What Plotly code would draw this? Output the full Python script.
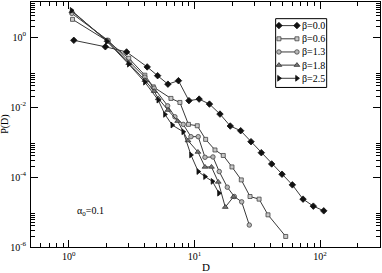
import plotly.graph_objects as go

# ---- data ----
d_b00 = [1.096, 1.954, 2.883, 4.206, 5.09, 6.15, 7.46, 9.04, 10.9, 13.17, 15.97, 19.29,
         23.34, 28.2, 34.07, 41.2, 49.8, 60.2, 73.2, 88.4, 107.0]
p_b00 = [0.805, 0.526, 0.374, 0.1396, 0.0785, 0.0449, 0.0565, 0.0152, 0.0168, 0.0121,
         0.00628, 0.00286, 0.0021, 0.00102, 0.000495, 0.000236, 0.000120, 5.96e-5,
         2.33e-5, 1.47e-5, 1.08e-5]

d_b06 = [1.07, 2.05, 3.0, 4.03, 4.70, 6.50, 7.66, 8.96, 10.53, 12.28, 14.57, 16.96, 19.9,
         23.6, 27.7, 32.7, 38.5, 53.3]
p_b06 = [3.19, 0.75, 0.247, 0.081, 0.0376, 0.0176, 0.0135, 0.00319, 0.00291, 0.00119,
         0.000592, 0.000412, 0.000194, 8.26e-5, 2.77e-5, 2.33e-5, 8.3e-6, 2.0e-6]

d_b13 = [1.057, 2.05, 3.06, 4.03, 4.78, 6.12, 6.99, 8.14, 9.38, 10.72, 12.13, 14.04, 15.76,
         18.26, 20.76, 23.77, 27.34]
p_b13 = [4.73, 0.805, 0.190, 0.0711, 0.0345, 0.0108, 0.00526, 0.00319, 0.00142, 0.00142,
         0.000366, 0.000374, 0.000143, 5.12e-5, 2.77e-5, 1.95e-5, 4.24e-6]

d_b18 = [1.057, 2.01, 3.0, 4.03, 4.78, 5.15, 6.15, 7.35, 8.88, 10.66, 12.13, 13.66, 15.47,
         17.6, 20.46]
p_b18 = [5.40, 0.805, 0.178, 0.0583, 0.0284, 0.0176, 0.00817, 0.00396, 0.0011, 0.000519,
         0.000194, 0.000194, 7.24e-5, 1.38e-5, 2.71e-5]

d_b25 = [1.051, 2.01, 3.0, 4.03, 5.15, 5.82, 6.66, 8.14, 9.38, 10.72, 12.13, 13.91, 15.67]
p_b25 = [5.77, 0.753, 0.167, 0.0512, 0.0157, 0.00615, 0.00305, 0.00196, 0.000427,
         0.000143, 0.000103, 7.5e-5, 3.45e-5]

series_names = ["β=0.0", "β=0.6", "β=1.3", "β=1.8", "β=2.5"]

x_major = [1, 10, 100]
x_major_text = ["10<sup>0</sup>", "10<sup>1</sup>", "10<sup>2</sup>"]
y_major = [1e-6, 1e-4, 1e-2, 1]
y_major_text = ["10<sup>-6</sup>", "10<sup>-4</sup>", "10<sup>-2</sup>", "10<sup>0</sup>"]

x_minor = [0.6, 0.7, 0.8, 0.9] + [k for k in range(2, 10)] + [10 * k for k in range(2, 10)] + [200, 300]
y_minor = [k * 1e-6 for k in range(2, 10)] + [k * 1e-4 for k in range(2, 10)] + \
          [k * 1e-2 for k in range(2, 10)] + [float(k) for k in range(2, 10)]

FONT = "Liberation Serif, Times New Roman, serif"
LINE = "#3a3a3a"

styles = [
    dict(symbol="diamond", size=5, color="#111111", line=dict(color="#111111", width=0.8)),
    dict(symbol="square", size=4, color="#c8c8c8", line=dict(color="#444444", width=0.8)),
    dict(symbol="circle", size=4.5, color="#b8b8b8", line=dict(color="#444444", width=0.8)),
    dict(symbol="triangle-up", size=5, color="#777777", line=dict(color="#333333", width=0.8)),
    dict(symbol="triangle-right", size=5, color="#111111", line=dict(color="#111111", width=0.8)),
]

data = [(d_b00, p_b00), (d_b06, p_b06), (d_b13, p_b13), (d_b18, p_b18), (d_b25, p_b25)]

fig = go.Figure()
for (dx, py), name, st in zip(data, series_names, styles):
    fig.add_trace(go.Scatter(
        x=dx, y=py, mode="lines+markers", name=name, showlegend=False,
        line=dict(color=LINE, width=1), marker=st,
    ))

# ---- hand-drawn legend (xmgrace style: a marker at each end of the line) ----
leg_rows = [0.9036, 0.8498, 0.7961, 0.7424, 0.6886]
leg_x0, leg_x1, leg_text_x = 0.7104, 0.7620, 0.7720
shapes = [dict(type="rect", xref="paper", yref="paper", x0=0.7010, x1=0.8472,
               y0=0.6512, y1=0.9320, line=dict(color="black", width=1),
               fillcolor="white", layer="below")]
annotations = []
for yy, name, st in zip(leg_rows, series_names, styles):
    shapes.append(dict(type="line", xref="paper", yref="paper", x0=leg_x0, x1=leg_x1,
                       y0=yy, y1=yy, line=dict(color=LINE, width=1), layer="below"))
    annotations.append(dict(text=name, xref="paper", yref="paper", x=leg_text_x, y=yy,
                            xanchor="left", yanchor="middle", showarrow=False,
                            font=dict(family=FONT, size=10, color="black")))
    fig.add_trace(go.Scatter(x=[leg_x0, leg_x1], y=[yy, yy], mode="markers",
                             marker=st, xaxis="x2", yaxis="y2", showlegend=False,
                             hoverinfo="skip"))

annotations += [
    dict(text="α<sub>0</sub>=0.1", xref="paper", yref="paper", x=0.171, y=0.145,
         xanchor="center", yanchor="middle", showarrow=False,
         font=dict(family=FONT, size=10)),
    dict(text="D", xref="paper", yref="paper", x=0.501, y=-0.083,
         xanchor="center", yanchor="middle", showarrow=False,
         font=dict(family=FONT, size=11)),
    dict(text="P(D)", xref="paper", yref="paper", x=-0.0751, y=0.5018,
         xanchor="center", yanchor="middle", showarrow=False, textangle=-90,
         font=dict(family=FONT, size=10)),
]

axis_common = dict(
    type="log", showgrid=False, zeroline=False, showline=True, automargin=False,
    linecolor="black", linewidth=1, mirror="ticks",
    ticks="inside", ticklen=7, tickwidth=1, tickcolor="black",
    tickmode="array", tickfont=dict(family=FONT, size=10, color="black"),
)

fig.update_layout(
    width=382, height=273,
    margin=dict(l=31, r=2, t=2, b=26),
    paper_bgcolor="white", plot_bgcolor="white",
    font=dict(family=FONT, size=10, color="black"),
    xaxis=dict(axis_common, range=[-0.30103, 2.47712], tickvals=x_major, ticktext=x_major_text,
               ticklabelstandoff=0,
               minor=dict(tickmode="array", tickvals=x_minor, ticks="inside", ticklen=4,
                          tickcolor="black", tickwidth=1, showgrid=False)),
    yaxis=dict(axis_common, range=[-6, 1], tickvals=y_major, ticktext=y_major_text,
               ticklabelstandoff=2,
               minor=dict(tickmode="array", tickvals=y_minor, ticks="inside", ticklen=4,
                          tickcolor="black", tickwidth=1, showgrid=False)),
    xaxis2=dict(overlaying="x", range=[0, 1], visible=False, fixedrange=True),
    yaxis2=dict(overlaying="y", range=[0, 1], visible=False, fixedrange=True),
    showlegend=False,
    shapes=shapes,
    annotations=annotations,
)

fig.write_html("out.html", config={"displayModeBar": False},
               post_script="document.body.style.margin='0';document.body.style.padding='0';")
